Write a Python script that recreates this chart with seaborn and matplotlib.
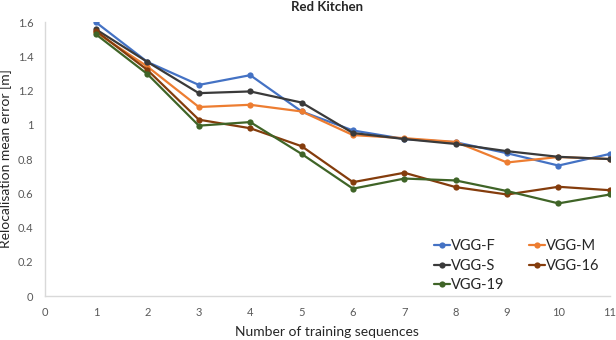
import pandas as pd
import matplotlib
matplotlib.use('Agg')
import matplotlib.pyplot as plt
import seaborn as sns

sequences = [1, 2, 3, 4, 5, 6, 7, 8, 9, 10, 11]
models = ['VGG-F', 'VGG-M', 'VGG-S', 'VGG-16', 'VGG-19']
vgg_f = [1.598, 1.367, 1.233, 1.29, 1.078, 0.967, 0.917, 0.898, 0.834, 0.762, 0.83]
vgg_m = [1.54, 1.34, 1.104, 1.117, 1.078, 0.94, 0.922, 0.9, 0.78, 0.812, 0.8]
vgg_s = [1.557, 1.367, 1.185, 1.195, 1.13, 0.952, 0.917, 0.888, 0.846, 0.813, 0.8]
vgg_16 = [1.548, 1.32, 1.03, 0.98, 0.875, 0.665, 0.72, 0.636, 0.593, 0.638, 0.618]
vgg_19 = [1.528, 1.296, 0.995, 1.016, 0.83, 0.627, 0.686, 0.675, 0.613, 0.541, 0.593]
colors = ['#4472C4', '#ED7D31', '#3A3A3A', '#843C0C', '#3F6427']

df = pd.DataFrame({'seq': sequences * 5,
                   'err': vgg_f + vgg_m + vgg_s + vgg_16 + vgg_19,
                   'model': [m for m in models for _ in sequences]})

sns.set_style('white')
plt.rcParams['font.family'] = ['Lato', 'DejaVu Sans']

fig = plt.figure(figsize=(6.16, 3.4), dpi=100)
ax = fig.add_axes([0.0726, 0.1294, 0.9174, 0.8056])
sns.lineplot(data=df, x='seq', y='err', hue='model', palette=dict(zip(models, colors)),
             marker='o', markersize=4.5, markeredgewidth=0, linewidth=1.6, ax=ax)

ax.set_xlim(0, 11)
ax.set_ylim(0, 1.6)
ax.set_xticks(range(0, 12))
ax.set_yticks([0, 0.2, 0.4, 0.6, 0.8, 1.0, 1.2, 1.4, 1.6])
ax.set_yticklabels(['0', '0.2', '0.4', '0.6', '0.8', '1', '1.2', '1.4', '1.6'])
ax.tick_params(axis='both', labelsize=8, colors='#595959', length=0, pad=8)
for s in ['top', 'right']:
    ax.spines[s].set_visible(False)
for s in ['left', 'bottom']:
    ax.spines[s].set_color('#D9D9D9')
    ax.spines[s].set_linewidth(1)
ax.set_xlabel('Number of training sequences', fontsize=10, color='#262626', labelpad=6)
ax.set_ylabel('Relocalisation mean error [m]', fontsize=10, color='#262626', labelpad=4)
ax.set_title('Red Kitchen', fontsize=9.5, fontweight='bold', color='#262626', pad=8)

handles, labels = ax.get_legend_handles_labels()
order = [0, 2, 4, 1, 3]
ax.legend([handles[i] for i in order], [labels[i] for i in order], ncol=2,
          loc='lower right', bbox_to_anchor=(1.005, -0.035), frameon=False, fontsize=10.5,
          handlelength=1.05, handletextpad=0.1, columnspacing=1.7, labelspacing=0.4)

fig.savefig('out.png', dpi=100)
